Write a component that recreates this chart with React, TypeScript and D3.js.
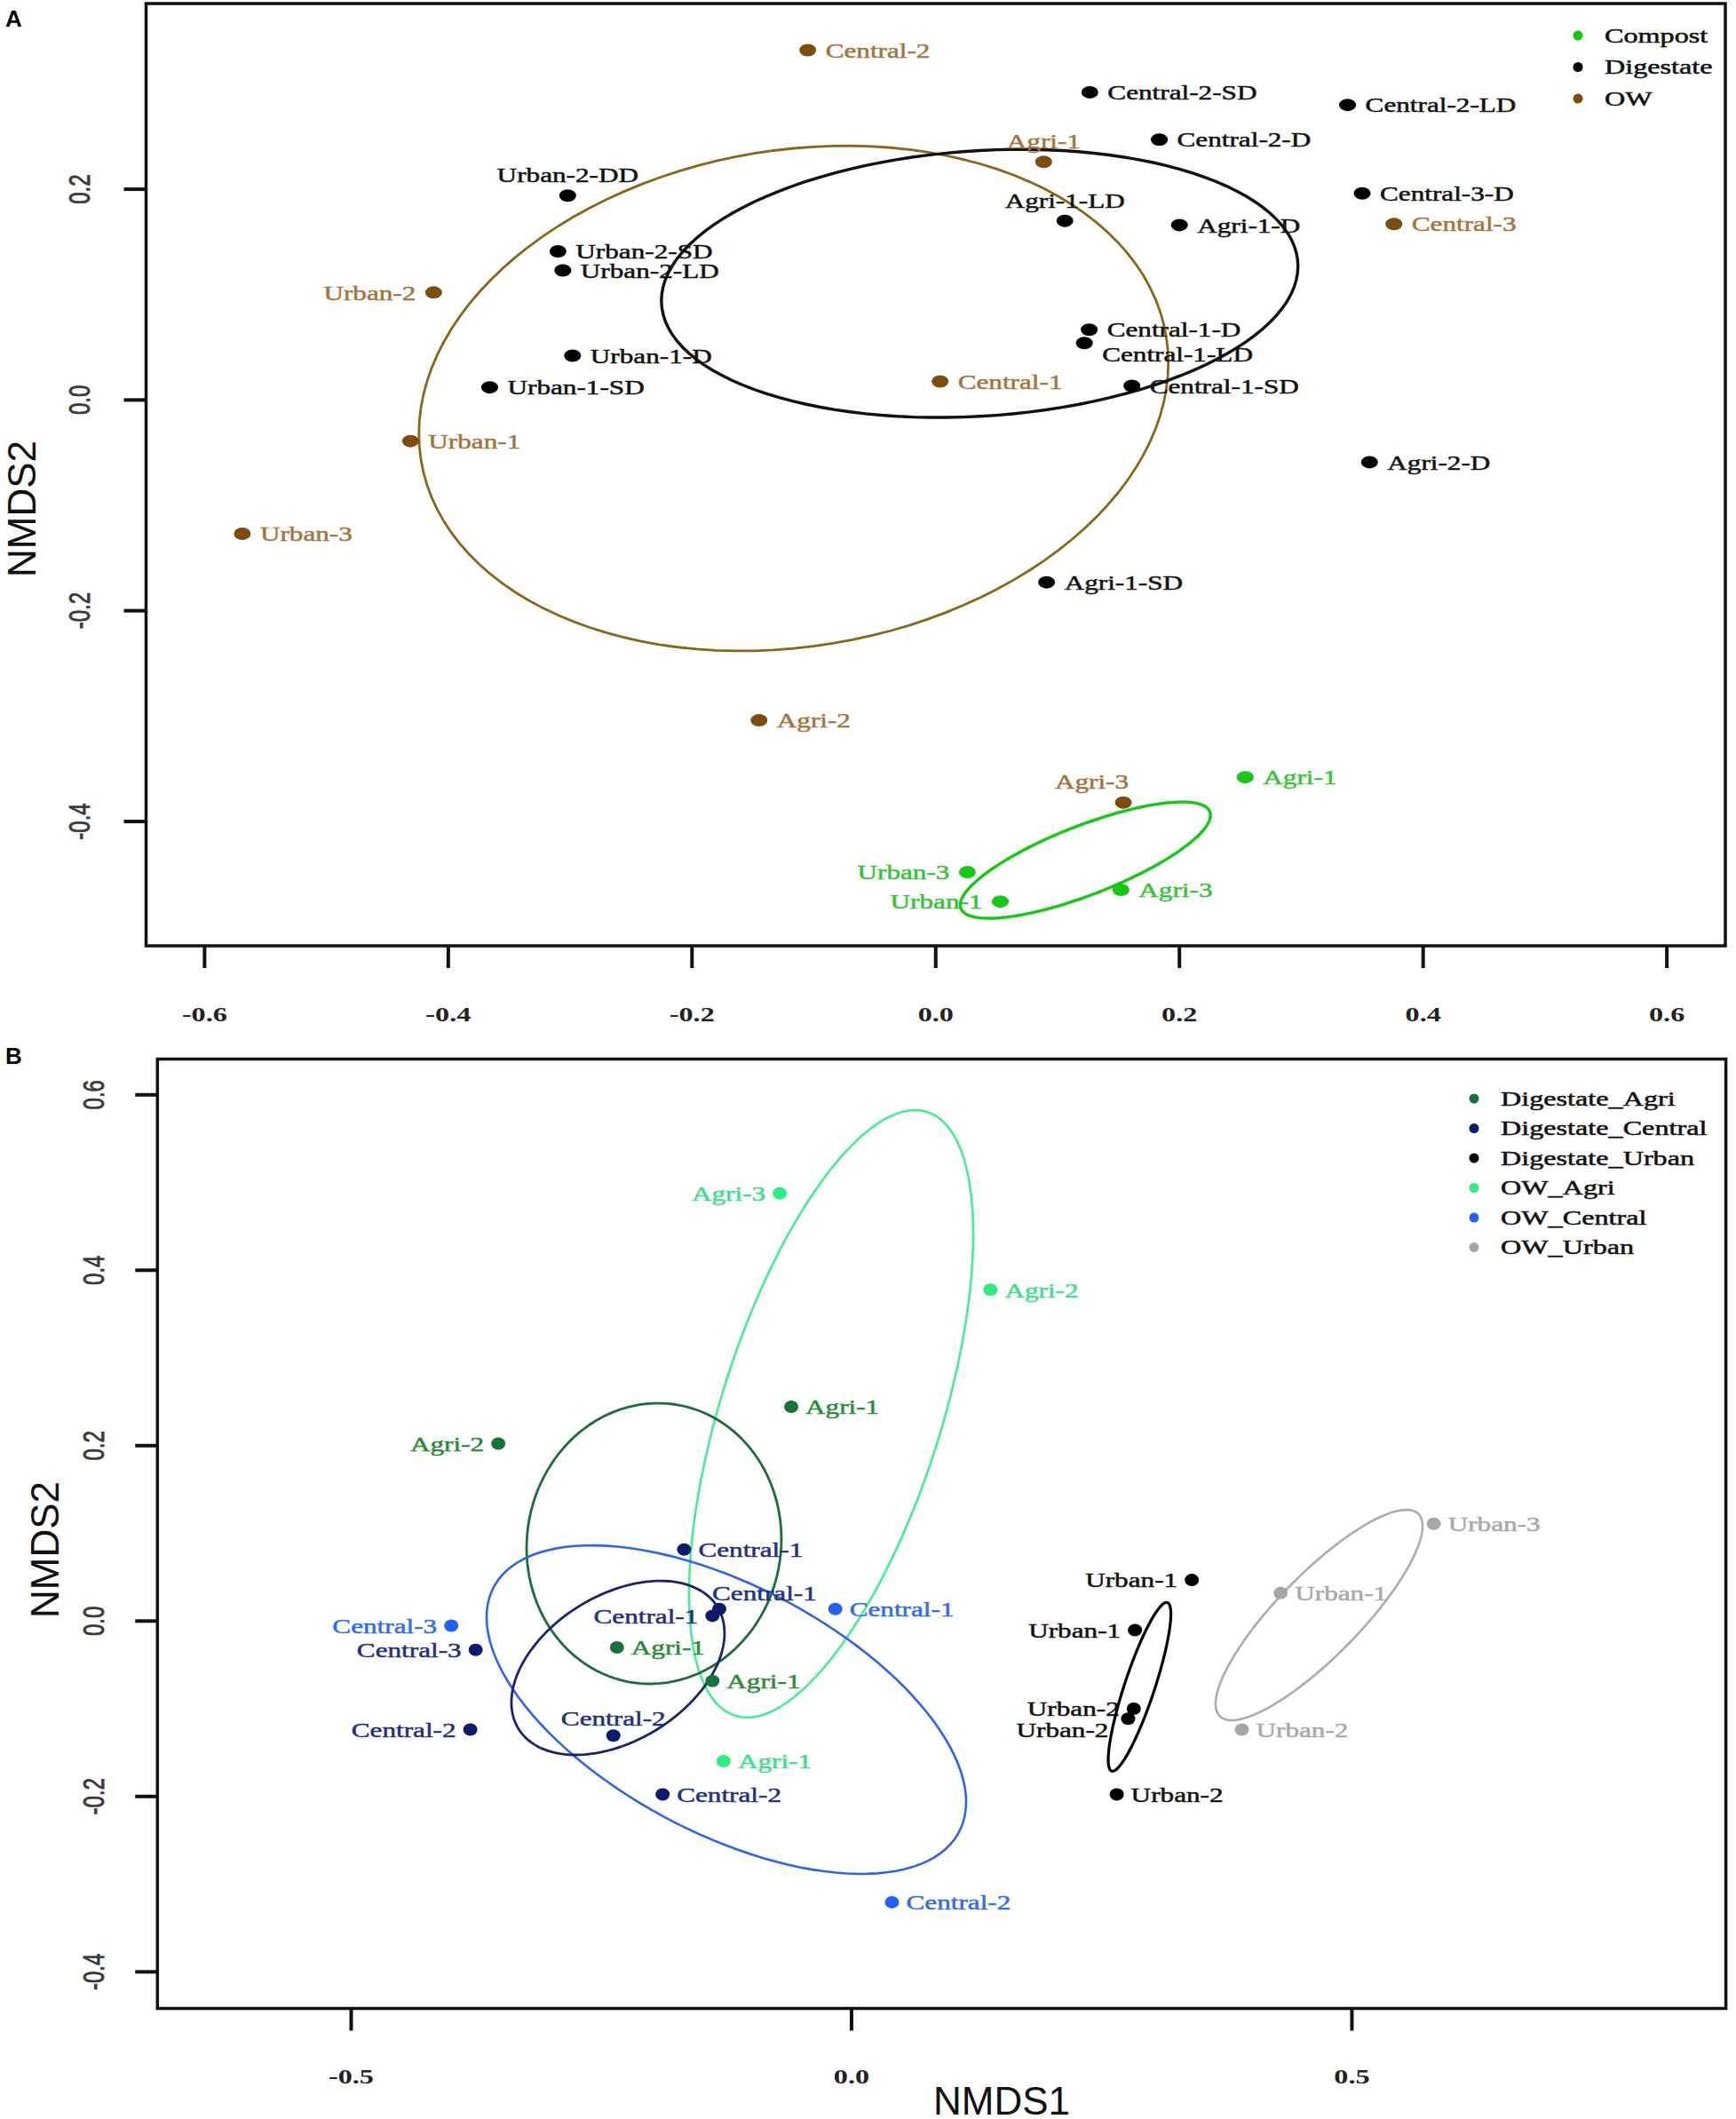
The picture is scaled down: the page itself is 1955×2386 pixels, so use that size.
import React from 'react'
import * as d3 from 'd3'

// ---------- panel A : Compost / Digestate / OW ----------
const aGroups = ['Compost', 'Digestate', 'OW']
const aLabels = [
  'Central-2', 'Urban-2-DD', 'Urban-2-SD', 'Urban-2-LD', 'Urban-2', 'Urban-1-D', 'Urban-1-SD', 'Urban-1',
  'Urban-3', 'Agri-2', 'Central-2-SD', 'Central-2-LD', 'Agri-1', 'Central-2-D', 'Central-3-D', 'Central-3',
  'Agri-1-LD', 'Agri-1-D', 'Central-1-D', 'Central-1-LD', 'Central-1', 'Central-1-SD', 'Agri-2-D', 'Agri-1-SD',
  'Agri-3', 'Agri-1', 'Urban-3', 'Agri-3', 'Urban-1',
]
const aX = [
  -0.105, -0.302, -0.310, -0.306, -0.412, -0.298, -0.366, -0.431,
  -0.569, -0.145, 0.1265, 0.338, 0.0886, 0.1835, 0.350, 0.376,
  0.106, 0.200, 0.126, 0.122, 0.0036, 0.161, 0.356, 0.091,
  0.154, 0.254, 0.026, 0.152, 0.053,
]
const aY = [
  0.332, 0.194, 0.141, 0.123, 0.102, 0.042, 0.012, -0.039,
  -0.127, -0.304, 0.292, 0.280, 0.226, 0.247, 0.196, 0.167,
  0.170, 0.166, 0.0667, 0.054, 0.0176, 0.0134, -0.059, -0.173,
  -0.382, -0.358, -0.448, -0.465, -0.476,
]
const aGroup = [
  'OW', 'Digestate', 'Digestate', 'Digestate', 'OW', 'Digestate', 'Digestate', 'OW',
  'OW', 'OW', 'Digestate', 'Digestate', 'OW', 'Digestate', 'Digestate', 'OW',
  'Digestate', 'Digestate', 'Digestate', 'Digestate', 'OW', 'Digestate', 'Digestate', 'Digestate',
  'OW', 'Compost', 'Compost', 'Compost', 'Compost',
]
const aPos = [
  'r', 't', 'r', 'r', 'l', 'r', 'r', 'r',
  'r', 'r', 'r', 'r', 't', 'r', 'r', 'r',
  't', 'r', 'r', 'br', 'r', 'r', 'r', 'r',
  'tl', 'r', 'l', 'r', 'l',
]
// ellipses: centre, half width, half height, y offset of the rightmost point
const aEllGroup = ['OW', 'Digestate', 'Compost']
const aEllCx = [-0.1166, 0.0361, 0.1228]
const aEllCy = [0.0015, 0.1106, -0.4367]
const aEllW = [0.3075, 0.2612, 0.1027]
const aEllH = [0.2397, 0.1272, 0.0552]
const aEllD = [0.0337, 0.0164, 0.0426]
const aTicksX = [-0.6, -0.4, -0.2, 0, 0.2, 0.4, 0.6]
const aTicksY = [-0.4, -0.2, 0, 0.2]

// ---------- panel B : six sub groups ----------
const bGroups = ['Digestate_Agri', 'Digestate_Central', 'Digestate_Urban', 'OW_Agri', 'OW_Central', 'OW_Urban']
const bLabels = [
  'Agri-3', 'Agri-1', 'Agri-2', 'Central-1', 'Central-1', 'Central-1', 'Central-1', 'Central-3',
  'Central-3', 'Agri-1', 'Agri-1', 'Central-2', 'Central-2', 'Agri-1', 'Central-2', 'Central-2',
  'Urban-1', 'Urban-2', 'Urban-2', 'Urban-2', 'Urban-2', 'Agri-2', 'Urban-3', 'Urban-1', 'Urban-1',
]
const bX = [
  -0.0717, -0.0603, -0.353, -0.1673, -0.1322, -0.139, -0.0162, -0.400,
  -0.3756, -0.2344, -0.139, -0.381, -0.238, -0.1278, -0.1888, 0.0404,
  0.2832, 0.282, 0.2764, 0.265, 0.390, 0.1388, 0.5818, 0.340, 0.4288,
]
const bY = [
  0.4876, 0.2443, 0.2023, 0.0816, 0.0138, 0.006, 0.0138, -0.0052,
  -0.0328, -0.0301, -0.0683, -0.1238, -0.1306, -0.1598, -0.1977, -0.3206,
  -0.0103, -0.100, -0.1114, -0.1977, -0.1238, 0.3777, 0.111, 0.0468, 0.0319,
]
const bGroup = [
  'OW_Agri', 'Digestate_Agri', 'Digestate_Agri', 'Digestate_Central', 'Digestate_Central', 'Digestate_Central', 'OW_Central', 'OW_Central',
  'Digestate_Central', 'Digestate_Agri', 'Digestate_Agri', 'Digestate_Central', 'Digestate_Central', 'OW_Agri', 'Digestate_Central', 'OW_Central',
  'Digestate_Urban', 'Digestate_Urban', 'Digestate_Urban', 'Digestate_Urban', 'OW_Urban', 'OW_Agri', 'OW_Urban', 'Digestate_Urban', 'OW_Urban',
]
const bPos = [
  'l', 'r', 'l', 'r', 'tr', 'l', 'r', 'l',
  'l', 'r', 'r', 'l', 't', 'r', 'r', 'r',
  'l', 'l', 'bl', 'r', 'r', 'r', 'r', 'l', 'r',
]
const bEllGroup = ['OW_Agri', 'Digestate_Agri', 'OW_Central', 'Digestate_Central', 'Digestate_Urban', 'OW_Urban']
const bEllCx = [-0.0204, -0.1974, -0.1251, -0.2334, 0.2878, 0.4672]
const bEllCy = [0.2363, 0.0884, -0.101, -0.0534, -0.075, 0.0069]
const bEllW = [0.142, 0.1273, 0.2396, 0.1065, 0.0313, 0.1034]
const bEllH = [0.3463, 0.16, 0.1873, 0.0992, 0.0962, 0.12]
const bEllD = [0.2046, 0.005, -0.1053, 0.0395, 0.083, 0.1013]
const bTicksX = [-0.5, 0, 0.5]
const bTicksY = [-0.4, -0.2, 0, 0.2, 0.4, 0.6]

// ---------- styles ----------
const stylesA: Record<string, { point: string; text: string; line: string; lw: number }> = {
  Compost: { point: '#17c617', text: '#35c435', line: '#14c814', lw: 3.4 },
  Digestate: { point: '#000', text: '#111', line: '#111', lw: 3.4 },
  OW: { point: '#7b4d0e', text: '#a5743c', line: '#8d6418', lw: 2.8 },
}
const stylesB: Record<string, { point: string; text: string; line: string; lw: number }> = {
  Digestate_Agri: { point: '#17733a', text: '#2a8a35', line: '#1e6c37', lw: 2.8 },
  Digestate_Central: { point: '#0c1c6b', text: '#1e3084', line: '#15256f', lw: 2.8 },
  Digestate_Urban: { point: '#000', text: '#111', line: '#000', lw: 3.2 },
  OW_Agri: { point: '#2ded80', text: '#3ede88', line: '#48ec90', lw: 2.6 },
  OW_Central: { point: '#2261f5', text: '#2f6cef', line: '#2c64ee', lw: 2.6 },
  OW_Urban: { point: '#a6a6a6', text: '#a9a9a9', line: '#acacac', lw: 2.6 },
}

const fmt = d3.formatLocale({ decimal: '.', thousands: ',', grouping: [3], currency: ['', ''], minus: '-' }).format('.1f')
const SX = 1.3 // the original figure is stretched horizontally

const serif = '"Liberation Serif", "Times New Roman", serif'
const sans = '"Liberation Sans", Arial, sans-serif'

type PanelProps = {
  box: [number, number, number, number]
  xDomain: [number, number]
  yDomain: [number, number]
  ticksX: number[]
  ticksY: number[]
  labels: string[]
  xs: number[]
  ys: number[]
  groups: string[]
  pos: string[]
  ellGroup: string[]
  ellCx: number[]
  ellCy: number[]
  ellW: number[]
  ellH: number[]
  ellD: number[]
  styles: Record<string, { point: string; text: string; line: string; lw: number }>
  legend: string[]
  legendX: number
  legendY: number
  legendStep: number
  gap: number
  dotRx: number
  dotRy: number
  yTickLabelX: number
  xTickLabelY: number
}

const Panel = (p: PanelProps) => {
  const [x0, y0, x1, y1] = p.box
  const sx = d3.scaleLinear().domain(p.xDomain).range([x0, x1])
  const sy = d3.scaleLinear().domain(p.yDomain).range([y1, y0])
  const ts = d3.range(0, 121).map(i => (i / 120) * Math.PI * 2)
  const line = d3.line<[number, number]>().x(d => sx(d[0])).y(d => sy(d[1])).curve(d3.curveLinearClosed)

  const off = (code: string): [number, number, 'start' | 'middle' | 'end'] => {
    const g = p.gap
    switch (code) {
      case 'l': return [-g, 0, 'end']
      case 't': return [0, -g - 3, 'middle']
      case 'tl': return [6, -g - 4, 'end']
      case 'tr': return [-8, -g - 2, 'start']
      case 'br': return [g, 13, 'start']
      case 'bl': return [-g - 6, 12, 'end']
      default: return [g, 0, 'start']
    }
  }

  return (
    <g>
      {/* ellipses */}
      {p.ellGroup.map((g, i) => {
        const s = Math.sqrt(p.ellH[i] ** 2 - p.ellD[i] ** 2)
        const pts = ts.map(t => [
          p.ellCx[i] + p.ellW[i] * Math.cos(t),
          p.ellCy[i] + p.ellD[i] * Math.cos(t) + s * Math.sin(t),
        ] as [number, number])
        return <path key={'e' + i} d={line(pts) as string} fill='none' stroke={p.styles[g].line} strokeWidth={p.styles[g].lw} />
      })}
      {/* points */}
      {p.labels.map((lab, i) => {
        const st = p.styles[p.groups[i]]
        const cx = sx(p.xs[i]), cy = sy(p.ys[i])
        const [dx, dy, anchor] = off(p.pos[i])
        return (
          <g key={'p' + i}>
            <ellipse cx={cx} cy={cy} rx={p.dotRx} ry={p.dotRy} fill={st.point} />
            <text transform={`translate(${cx + dx},${cy + dy}) scale(${SX},1)`} textAnchor={anchor}
              dominantBaseline='central' fontFamily={serif} fontSize={24} fill={st.text}
              stroke={st.text} strokeWidth={0.5}>{lab}</text>
          </g>
        )
      })}
      {/* frame */}
      <rect x={x0} y={y0} width={x1 - x0} height={y1 - y0} fill='none' stroke='#111' strokeWidth={3.5} />
      {p.ticksX.map(v => (
        <g key={'tx' + v}>
          <line x1={sx(v)} x2={sx(v)} y1={y1} y2={y1 + 25} stroke='#111' strokeWidth={4} />
          <text transform={`translate(${sx(v)},${p.xTickLabelY}) scale(1.4,1)`} textAnchor='middle' dominantBaseline='central'
            fontFamily={serif} fontWeight='bold' fontSize={23} fill='#222'>{fmt(v)}</text>
        </g>
      ))}
      {p.ticksY.map(v => (
        <g key={'ty' + v}>
          <line x1={x0 - 25} x2={x0} y1={sy(v)} y2={sy(v)} stroke='#111' strokeWidth={4} />
          <text transform={`translate(${p.yTickLabelX},${sy(v)}) scale(1.4,1) rotate(-90)`} textAnchor='middle' dominantBaseline='central'
            fontFamily={sans} fontSize={24} fill='#3a3a3a' stroke='#3a3a3a' strokeWidth={0.6}>{fmt(v)}</text>
        </g>
      ))}
      {/* legend */}
      {p.legend.map((g, i) => (
        <g key={'lg' + g}>
          <circle cx={p.legendX} cy={p.legendY + i * p.legendStep} r={5.5} fill={p.styles[g].point} />
          <text transform={`translate(${p.legendX + 30},${p.legendY + i * p.legendStep}) scale(1.4,1)`} dominantBaseline='central'
            fontFamily={serif} fontSize={23} fill='#111' stroke='#111' strokeWidth={0.5}>{g}</text>
        </g>
      ))}
    </g>
  )
}

export default function App() {
  return (
    <svg width={1955} height={2386} style={{ position: 'absolute', left: 0, top: 0, background: '#fff' }}>
      <rect width={1955} height={2386} fill='#fff' />
      <text x={6} y={30} fontFamily={sans} fontWeight='bold' fontSize={26}>A</text>
      <text x={6} y={1198} fontFamily={sans} fontWeight='bold' fontSize={26}>B</text>
      <Panel box={[164.5, 4, 1943, 1065]} xDomain={[-0.648, 0.648]} yDomain={[-0.518, 0.3762]}
        ticksX={aTicksX} ticksY={aTicksY} labels={aLabels} xs={aX} ys={aY} groups={aGroup} pos={aPos}
        ellGroup={aEllGroup} ellCx={aEllCx} ellCy={aEllCy} ellW={aEllW} ellH={aEllH} ellD={aEllD}
        styles={stylesA} legend={aGroups} legendX={1777} legendY={40} legendStep={35.5} gap={20}
        dotRx={9.5} dotRy={7} yTickLabelX={89} xTickLabelY={1142} />
      <Panel box={[177.3, 1192.5, 1943.6, 2261.5]} xDomain={[-0.6936, 0.8737]} yDomain={[-0.4417, 0.6408]}
        ticksX={bTicksX} ticksY={bTicksY} labels={bLabels} xs={bX} ys={bY} groups={bGroup} pos={bPos}
        ellGroup={bEllGroup} ellCx={bEllCx} ellCy={bEllCy} ellW={bEllW} ellH={bEllH} ellD={bEllD}
        styles={stylesB} legend={bGroups} legendX={1660} legendY={1237} legendStep={33.5} gap={16}
        dotRx={8} dotRy={7} yTickLabelX={105} xTickLabelY={2338} />
      <text transform='translate(24,573) rotate(-90)' textAnchor='middle' dominantBaseline='central'
        fontFamily={sans} fontSize={44} fill='#111'>NMDS2</text>
      <text transform='translate(50,1745) rotate(-90)' textAnchor='middle' dominantBaseline='central'
        fontFamily={sans} fontSize={44} fill='#111'>NMDS2</text>
      <text x={1128} y={2381} textAnchor='middle' fontFamily={sans} fontSize={44} fill='#111'>NMDS1</text>
    </svg>
  )
}
